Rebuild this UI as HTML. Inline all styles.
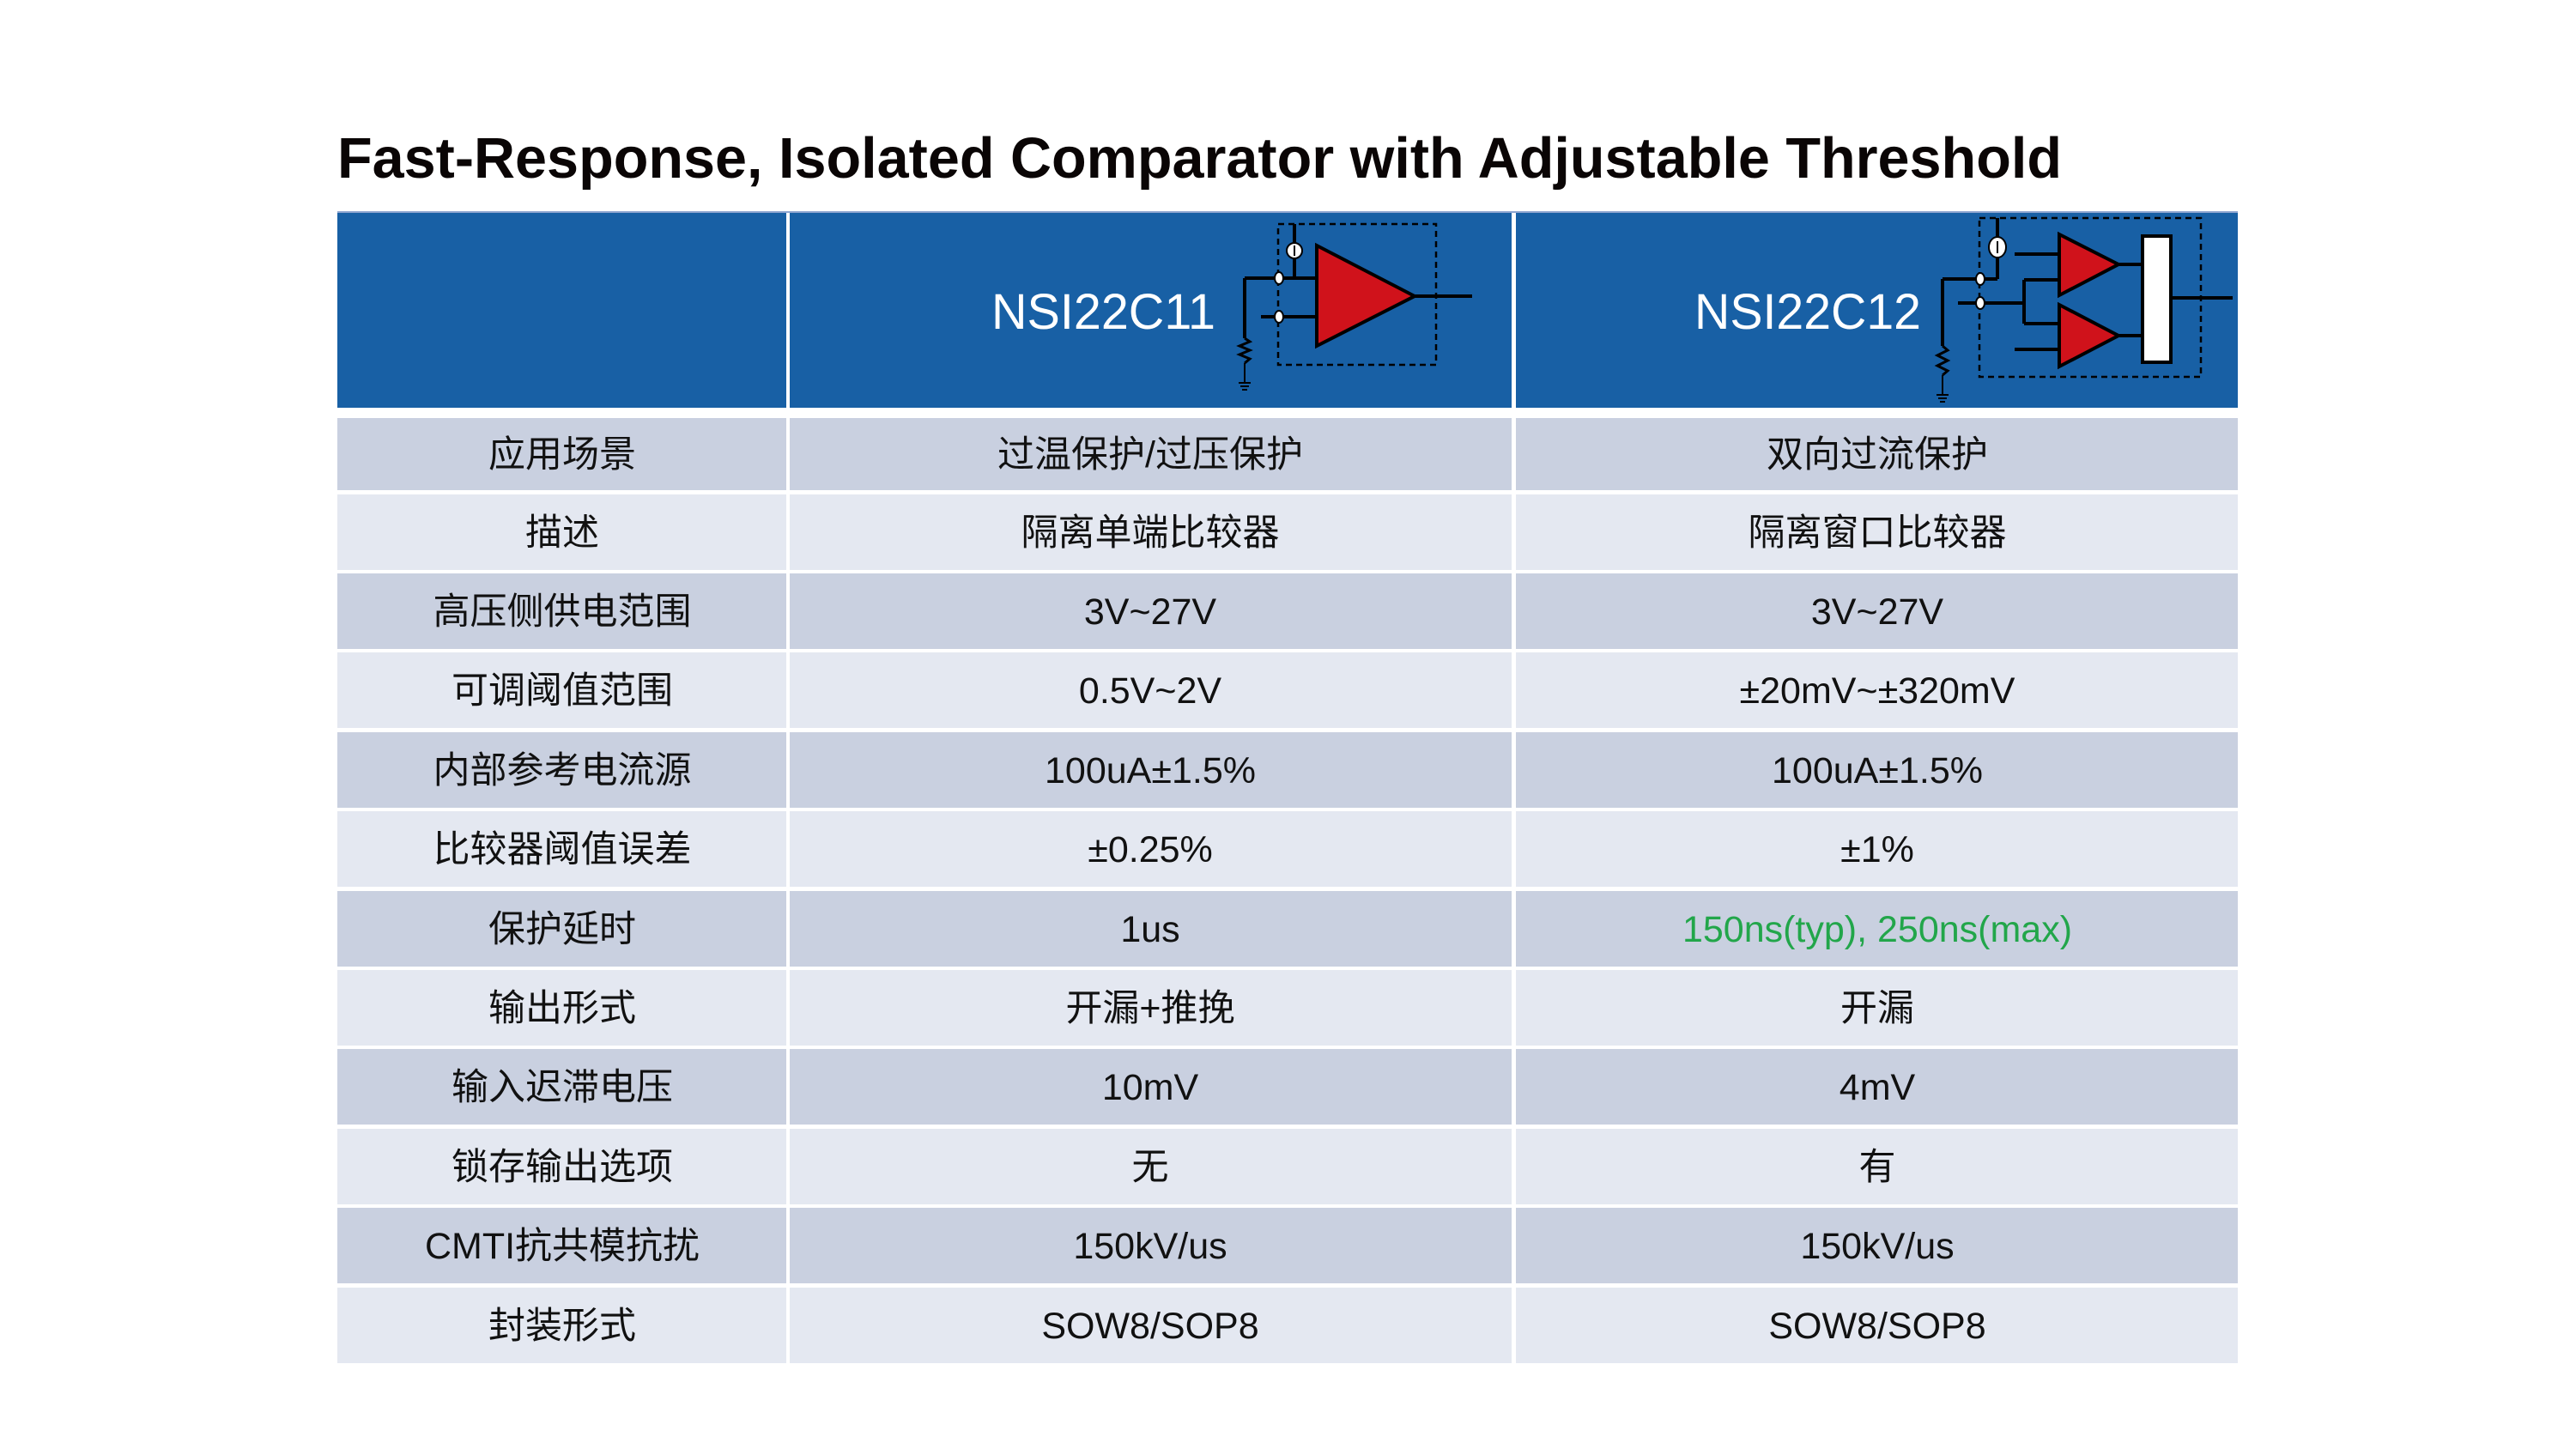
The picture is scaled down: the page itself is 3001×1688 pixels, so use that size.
<!DOCTYPE html>
<html><head><meta charset="utf-8"><style>html,body{margin:0;padding:0;background:#fff}svg{display:block}</style></head>
<body>
<svg width="3001" height="1688" viewBox="0 0 3001 1688" xmlns="http://www.w3.org/2000/svg">
<rect width="3001" height="1688" fill="#fff"/>
<text x="393" y="207" font-family="Liberation Sans, sans-serif" font-weight="bold" font-size="67" fill="#0a0505" textLength="2009" lengthAdjust="spacingAndGlyphs">Fast-Response, Isolated Comparator with Adjustable Threshold</text>
<!-- header -->
<rect x="393" y="246" width="523" height="229" fill="#1860a5"/>
<rect x="920" y="246" width="841" height="229" fill="#1860a5"/>
<rect x="1766" y="246" width="841" height="229" fill="#1860a5"/>
<rect x="393" y="246" width="2214" height="2" fill="#8fa6d0"/>
<g font-family="Liberation Sans, sans-serif" font-size="58" fill="#fff">
<text x="1155" y="383" textLength="261" lengthAdjust="spacingAndGlyphs">NSI22C11</text>
<text x="1974" y="383" textLength="264" lengthAdjust="spacingAndGlyphs">NSI22C12</text>
</g>
<!-- circuit 1 -->
<g stroke="#000" stroke-width="4" fill="none">
<rect x="1489" y="261" width="184" height="164" stroke-width="2.5" stroke-dasharray="7,5"/>
<line x1="1508" y1="261" x2="1508" y2="324"/>
<line x1="1450" y1="324" x2="1534" y2="324"/>
<line x1="1469" y1="369" x2="1534" y2="369"/>
<line x1="1450" y1="324" x2="1450" y2="394"/>
<polyline points="1450,394 1456,398 1444,403 1456,408 1444,413 1456,418 1450,423" stroke-width="3"/>
<line x1="1450" y1="423" x2="1450" y2="446" stroke-width="2"/>
<line x1="1443" y1="446" x2="1457" y2="446" stroke-width="2"/>
<line x1="1445" y1="450" x2="1455" y2="450" stroke-width="2"/>
<line x1="1447" y1="454" x2="1453" y2="454" stroke-width="2"/>
<line x1="1648" y1="345" x2="1715" y2="345"/>
<polygon points="1534,286 1534,403 1648,345" fill="#d0121b"/>
<circle cx="1508" cy="292" r="9" fill="#fff" stroke-width="2"/>
<line x1="1508" y1="286" x2="1508" y2="298" stroke-width="2"/>
<ellipse cx="1490" cy="324" rx="5" ry="7" fill="#fff" stroke-width="2"/>
<ellipse cx="1490" cy="369" rx="5" ry="7" fill="#fff" stroke-width="2"/>
</g>
<!-- circuit 2 -->
<g stroke="#000" stroke-width="4" fill="none">
<rect x="2306" y="254" width="258" height="185" stroke-width="2.5" stroke-dasharray="7,5"/>
<line x1="2327" y1="254" x2="2327" y2="325"/>
<line x1="2263" y1="325" x2="2327" y2="325"/>
<line x1="2281" y1="353" x2="2358" y2="353"/>
<line x1="2347" y1="296" x2="2399" y2="296"/>
<line x1="2358" y1="326" x2="2399" y2="326"/>
<line x1="2358" y1="326" x2="2358" y2="377"/>
<line x1="2358" y1="377" x2="2399" y2="377"/>
<line x1="2347" y1="407" x2="2399" y2="407"/>
<line x1="2263" y1="325" x2="2263" y2="403"/>
<polyline points="2263,403 2269,408 2257,414 2269,420 2257,426 2269,432 2263,437" stroke-width="3"/>
<line x1="2263" y1="437" x2="2263" y2="460" stroke-width="2"/>
<line x1="2256" y1="460" x2="2270" y2="460" stroke-width="2"/>
<line x1="2258" y1="464" x2="2268" y2="464" stroke-width="2"/>
<line x1="2260" y1="468" x2="2266" y2="468" stroke-width="2"/>
<line x1="2468" y1="308" x2="2496" y2="308"/>
<line x1="2468" y1="391" x2="2496" y2="391"/>
<line x1="2529" y1="347" x2="2601" y2="347"/>
<polygon points="2399,273 2399,344 2468,308" fill="#d0121b"/>
<polygon points="2399,355 2399,427 2468,391" fill="#d0121b"/>
<rect x="2496" y="275" width="33" height="147" fill="#fff"/>
<ellipse cx="2327" cy="288" rx="10" ry="12" fill="#fff" stroke-width="2"/>
<line x1="2327" y1="281" x2="2327" y2="295" stroke-width="2"/>
<ellipse cx="2307" cy="325" rx="5" ry="7" fill="#fff" stroke-width="2"/>
<ellipse cx="2307" cy="353" rx="5" ry="7" fill="#fff" stroke-width="2"/>
</g>
<!-- rows -->
<g id="rows"></g>
<g font-family="Liberation Sans, Noto Sans CJK SC, sans-serif" font-size="43" fill="#111" text-anchor="middle">
<rect x="393" y="487" width="523" height="84" fill="#c9d0e0"/><rect x="920" y="487" width="841" height="84" fill="#c9d0e0"/><rect x="1766" y="487" width="841" height="84" fill="#c9d0e0"/>
<text x="655" y="544">应用场景</text><text x="1340" y="544">过温保护/过压保护</text><text x="2187" y="544">双向过流保护</text>
<rect x="393" y="576" width="523" height="88" fill="#e4e8f1"/><rect x="920" y="576" width="841" height="88" fill="#e4e8f1"/><rect x="1766" y="576" width="841" height="88" fill="#e4e8f1"/>
<text x="655" y="635">描述</text><text x="1340" y="635">隔离单端比较器</text><text x="2187" y="635">隔离窗口比较器</text>
<rect x="393" y="668" width="523" height="88" fill="#c9d0e0"/><rect x="920" y="668" width="841" height="88" fill="#c9d0e0"/><rect x="1766" y="668" width="841" height="88" fill="#c9d0e0"/>
<text x="655" y="727">高压侧供电范围</text><text x="1340" y="727">3V~27V</text><text x="2187" y="727">3V~27V</text>
<rect x="393" y="760" width="523" height="88" fill="#e4e8f1"/><rect x="920" y="760" width="841" height="88" fill="#e4e8f1"/><rect x="1766" y="760" width="841" height="88" fill="#e4e8f1"/>
<text x="655" y="819">可调阈值范围</text><text x="1340" y="819">0.5V~2V</text><text x="2187" y="819">±20mV~±320mV</text>
<rect x="393" y="853" width="523" height="88" fill="#c9d0e0"/><rect x="920" y="853" width="841" height="88" fill="#c9d0e0"/><rect x="1766" y="853" width="841" height="88" fill="#c9d0e0"/>
<text x="655" y="912">内部参考电流源</text><text x="1340" y="912">100uA±1.5%</text><text x="2187" y="912">100uA±1.5%</text>
<rect x="393" y="945" width="523" height="88" fill="#e4e8f1"/><rect x="920" y="945" width="841" height="88" fill="#e4e8f1"/><rect x="1766" y="945" width="841" height="88" fill="#e4e8f1"/>
<text x="655" y="1004">比较器阈值误差</text><text x="1340" y="1004">±0.25%</text><text x="2187" y="1004">±1%</text>
<rect x="393" y="1038" width="523" height="88" fill="#c9d0e0"/><rect x="920" y="1038" width="841" height="88" fill="#c9d0e0"/><rect x="1766" y="1038" width="841" height="88" fill="#c9d0e0"/>
<text x="655" y="1097">保护延时</text><text x="1340" y="1097">1us</text><text x="2187" y="1097" fill="#22a64a">150ns(typ), 250ns(max)</text>
<rect x="393" y="1130" width="523" height="88" fill="#e4e8f1"/><rect x="920" y="1130" width="841" height="88" fill="#e4e8f1"/><rect x="1766" y="1130" width="841" height="88" fill="#e4e8f1"/>
<text x="655" y="1189">输出形式</text><text x="1340" y="1189">开漏+推挽</text><text x="2187" y="1189">开漏</text>
<rect x="393" y="1222" width="523" height="88" fill="#c9d0e0"/><rect x="920" y="1222" width="841" height="88" fill="#c9d0e0"/><rect x="1766" y="1222" width="841" height="88" fill="#c9d0e0"/>
<text x="655" y="1281">输入迟滞电压</text><text x="1340" y="1281">10mV</text><text x="2187" y="1281">4mV</text>
<rect x="393" y="1315" width="523" height="88" fill="#e4e8f1"/><rect x="920" y="1315" width="841" height="88" fill="#e4e8f1"/><rect x="1766" y="1315" width="841" height="88" fill="#e4e8f1"/>
<text x="655" y="1374">锁存输出选项</text><text x="1340" y="1374">无</text><text x="2187" y="1374">有</text>
<rect x="393" y="1407" width="523" height="88" fill="#c9d0e0"/><rect x="920" y="1407" width="841" height="88" fill="#c9d0e0"/><rect x="1766" y="1407" width="841" height="88" fill="#c9d0e0"/>
<text x="655" y="1466">CMTI抗共模抗扰</text><text x="1340" y="1466">150kV/us</text><text x="2187" y="1466">150kV/us</text>
<rect x="393" y="1500" width="523" height="88" fill="#e4e8f1"/><rect x="920" y="1500" width="841" height="88" fill="#e4e8f1"/><rect x="1766" y="1500" width="841" height="88" fill="#e4e8f1"/>
<text x="655" y="1559">封装形式</text><text x="1340" y="1559">SOW8/SOP8</text><text x="2187" y="1559">SOW8/SOP8</text>
</g>
</svg>
</body></html>
